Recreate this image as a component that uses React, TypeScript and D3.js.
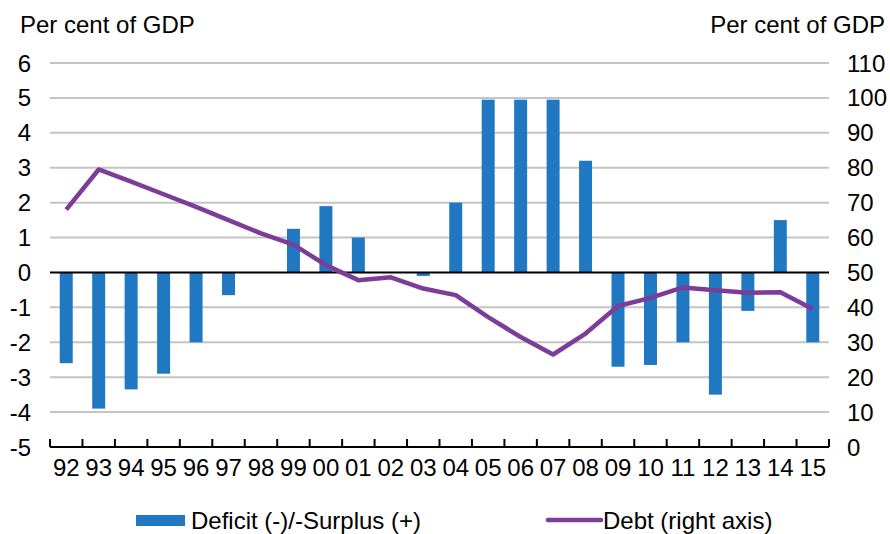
import { useEffect, useRef } from "react";
import * as d3 from "d3";

const years = ["92", "93", "94", "95", "96", "97", "98", "99", "00", "01", "02", "03",
  "04", "05", "06", "07", "08", "09", "10", "11", "12", "13", "14", "15"];

// budget balance, per cent of GDP (left axis)
const balance = [-2.6, -3.9, -3.35, -2.9, -2.0, -0.65, 0, 1.25, 1.9, 1.0, 0, -0.1,
  2.0, 4.95, 4.95, 4.95, 3.2, -2.7, -2.65, -2.0, -3.5, -1.1, 1.5, -2.0];

// gross debt, per cent of GDP (right axis)
const debt = [68, 79.5, 76, 72.4, 68.8, 65, 61.2, 58, 52.1, 47.8, 48.6, 45.4,
  43.5, 37.2, 31.5, 26.5, 32.5, 40.4, 42.7, 45.7, 44.9, 44.2, 44.3, 39.5];

const leftTicks = [6, 5, 4, 3, 2, 1, 0, -1, -2, -3, -4, -5];
const rightTicks = [110, 100, 90, 80, 70, 60, 50, 40, 30, 20, 10, 0];

const width = 890;
const height = 534;
const font = "'Liberation Sans', Arial, sans-serif";

export default function App() {
  const svgRef = useRef<SVGSVGElement>(null);

  useEffect(() => {
    if (!svgRef.current) return;
    const svg = d3.select(svgRef.current);
    svg.selectAll("*").remove();

    const margin = { top: 63, right: 61, bottom: 87, left: 50 };
    const x = d3.scaleBand<string>()
      .domain(years)
      .range([margin.left, width - margin.right])
      .paddingInner(0.6)
      .paddingOuter(0.3);
    const xb = d3.scaleBand<string>().domain(years).range([margin.left, width - margin.right]);
    const yL = d3.scaleLinear().domain([-5, 6]).range([height - margin.bottom, margin.top]);
    const yR = d3.scaleLinear().domain([0, 110]).range([height - margin.bottom, margin.top]);

    // gridlines
    svg.append("g")
      .selectAll("line")
      .data(leftTicks.filter((t) => t !== 0 && t !== -5))
      .enter()
      .append("line")
      .attr("x1", margin.left)
      .attr("x2", width - margin.right)
      .attr("y1", (d) => yL(d))
      .attr("y2", (d) => yL(d))
      .style("stroke", "#c4c4c4")
      .style("stroke-width", "2px");

    // bars
    svg.append("g")
      .selectAll("rect")
      .data(balance)
      .enter()
      .append("rect")
      .attr("x", (d, i) => x(years[i])!)
      .attr("width", x.bandwidth())
      .attr("y", (d) => yL(Math.max(0, d)))
      .attr("height", (d) => Math.abs(yL(d) - yL(0)))
      .style("fill", "#1f78c1");

    // zero line
    svg.append("line")
      .attr("x1", margin.left)
      .attr("x2", width - margin.right)
      .attr("y1", yL(0))
      .attr("y2", yL(0))
      .style("stroke", "#000")
      .style("stroke-width", "2px");

    // bottom axis with inward ticks
    const base = yL(-5);
    svg.append("line")
      .attr("x1", margin.left)
      .attr("x2", width - margin.right)
      .attr("y1", base)
      .attr("y2", base)
      .style("stroke", "#000")
      .style("stroke-width", "2px");
    const edges = years.map((y) => xb(y)!).concat([width - margin.right]);
    svg.append("g")
      .selectAll("line")
      .data(edges)
      .enter()
      .append("line")
      .attr("x1", (d) => d)
      .attr("x2", (d) => d)
      .attr("y1", base)
      .attr("y2", base - 8)
      .style("stroke", "#000")
      .style("stroke-width", "2px");

    // debt line
    const line = d3.line<number>()
      .x((d, i) => xb(years[i])! + xb.bandwidth() / 2)
      .y((d) => yR(d));
    svg.append("path")
      .datum(debt)
      .attr("d", line)
      .style("fill", "none")
      .style("stroke", "#7d3c98")
      .style("stroke-width", "4.5px")
      .style("stroke-linejoin", "round");

    const text = svg.append("g")
      .style("font-family", font)
      .style("font-size", "24px")
      .style("fill", "#000");

    text.selectAll(".lt")
      .data(leftTicks)
      .enter()
      .append("text")
      .attr("x", 31)
      .attr("y", (d) => yL(d) + 8.5)
      .attr("text-anchor", "end")
      .text((d) => d);

    text.selectAll(".rt")
      .data(rightTicks)
      .enter()
      .append("text")
      .attr("x", 847)
      .attr("y", (d) => yR(d) + 8.5)
      .attr("text-anchor", "start")
      .text((d) => d);

    text.selectAll(".xt")
      .data(years)
      .enter()
      .append("text")
      .attr("x", (d) => xb(d)! + xb.bandwidth() / 2)
      .attr("y", 476)
      .attr("text-anchor", "middle")
      .text((d) => d);

    text.append("text").attr("x", 20).attr("y", 33).text("Per cent of GDP");
    text.append("text").attr("x", 885).attr("y", 33).attr("text-anchor", "end").text("Per cent of GDP");

    // legend
    svg.append("rect")
      .attr("x", 136).attr("y", 515).attr("width", 49).attr("height", 11)
      .style("fill", "#1f78c1");
    text.append("text").attr("x", 191).attr("y", 529).text("Deficit (-)/-Surplus (+)");
    svg.append("line")
      .attr("x1", 548).attr("x2", 601).attr("y1", 520).attr("y2", 520)
      .style("stroke", "#7d3c98")
      .style("stroke-width", "4.5px")
      .style("stroke-linecap", "round");
    text.append("text").attr("x", 603).attr("y", 529).text("Debt (right axis)");
  }, []);

  return (
    <svg
      ref={svgRef}
      width={width}
      height={height}
      style={{ position: "fixed", left: 0, top: 0, background: "#fff" }}
    />
  );
}
